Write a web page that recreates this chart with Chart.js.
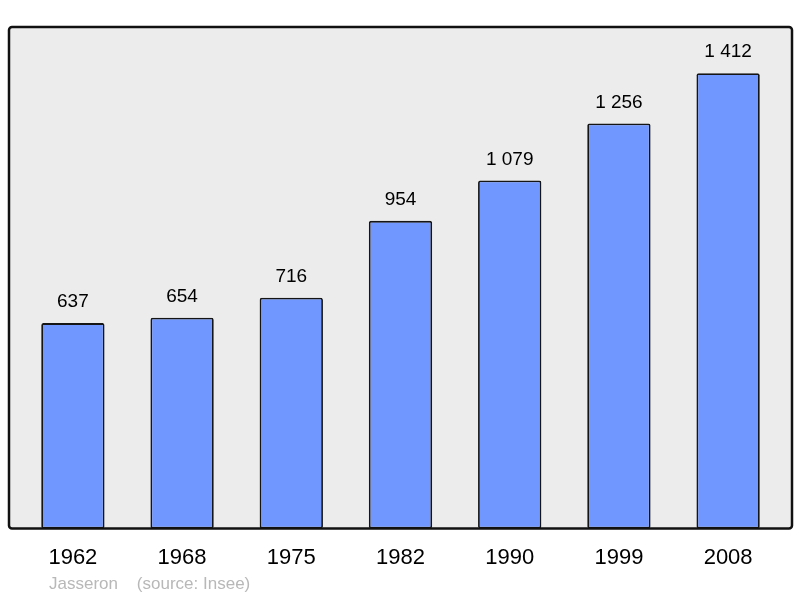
<!DOCTYPE html>
<html>
<head>
<meta charset="utf-8">
<script src="https://cdn.jsdelivr.net/npm/chart.js@4/dist/chart.umd.min.js"></script>
<style>
  html, body { margin: 0; padding: 0; background: #fff; }
  #wrap { width: 800px; height: 598px; }
</style>
</head>
<body>
<div id="wrap"><canvas id="grafico"></canvas></div>
<script>
// Datos de población
var annees = ['1962', '1968', '1975', '1982', '1990', '1999', '2008'];
var population = [637, 654, 716, 954, 1079, 1256, 1412];
var piePagina = 'Jasseron    (source: Insee)';

function formatNombre(v) {
  return String(v).replace(/\B(?=(\d{3})+(?!\d))/g, ' ');
}

// Fondo gris con borde negro
const marco = {
  id: 'marco',
  beforeDatasetsDraw(chart) {
    const a = chart.chartArea, ctx = chart.ctx;
    ctx.save();
    ctx.beginPath();
    ctx.roundRect(a.left, a.top, a.right - a.left, a.bottom - a.top, 3);
    ctx.fillStyle = '#ececec';
    ctx.fill();
    ctx.restore();
  },
  afterDatasetsDraw(chart) {
    const a = chart.chartArea, ctx = chart.ctx;
    ctx.save();
    ctx.beginPath();
    ctx.roundRect(a.left, a.top, a.right - a.left, a.bottom - a.top, 3);
    ctx.lineWidth = 2.5;
    ctx.strokeStyle = '#111';
    ctx.stroke();
    // etiquetas de valores
    ctx.fillStyle = '#000';
    ctx.font = '19px "Liberation Sans", Arial, sans-serif';
    ctx.textAlign = 'center';
    ctx.textBaseline = 'middle';
    chart.getDatasetMeta(0).data.forEach(function (bar, i) {
      ctx.fillText(formatNombre(population[i]), bar.x, bar.y - 21);
    });
    // pie de página
    ctx.fillStyle = '#b8b8b8';
    ctx.font = '17px "Liberation Sans", Arial, sans-serif';
    ctx.textAlign = 'left';
    ctx.fillText(piePagina, 49, 584);
    ctx.restore();
  }
};

new Chart(document.getElementById('grafico'), {
  type: 'bar',
  data: {
    datasets: [{
      data: population.map(function (v, i) { return { x: i, y: v }; }),
      backgroundColor: '#7096ff',
      borderColor: '#151515',
      borderWidth: 1.8,
      borderRadius: 2,
      borderSkipped: false,
      barPercentage: 0.58,
      categoryPercentage: 1
    }]
  },
  options: {
    responsive: true,
    maintainAspectRatio: false,
    animation: false,
    layout: { padding: { left: 9, right: 8, top: 27, bottom: 19 } },
    plugins: {
      legend: { display: false },
      title: { display: false },
      tooltip: { enabled: false }
    },
    scales: {
      x: {
        type: 'linear',
        offset: false,
        min: -0.585,
        max: 6.585,
        afterBuildTicks: function (scale) {
          scale.ticks = annees.map(function (_, i) { return { value: i }; });
        },
        grid: { display: false },
        border: { display: false },
        ticks: {
          color: '#000',
          padding: 8,
          font: { size: 22, family: '"Liberation Sans", Arial, sans-serif' },
          maxRotation: 0,
          callback: function (v) { return annees[v]; }
        }
      },
      y: {
        display: false,
        min: 0,
        max: 1555
      }
    }
  },
  plugins: [marco]
});
</script>
</body>
</html>
